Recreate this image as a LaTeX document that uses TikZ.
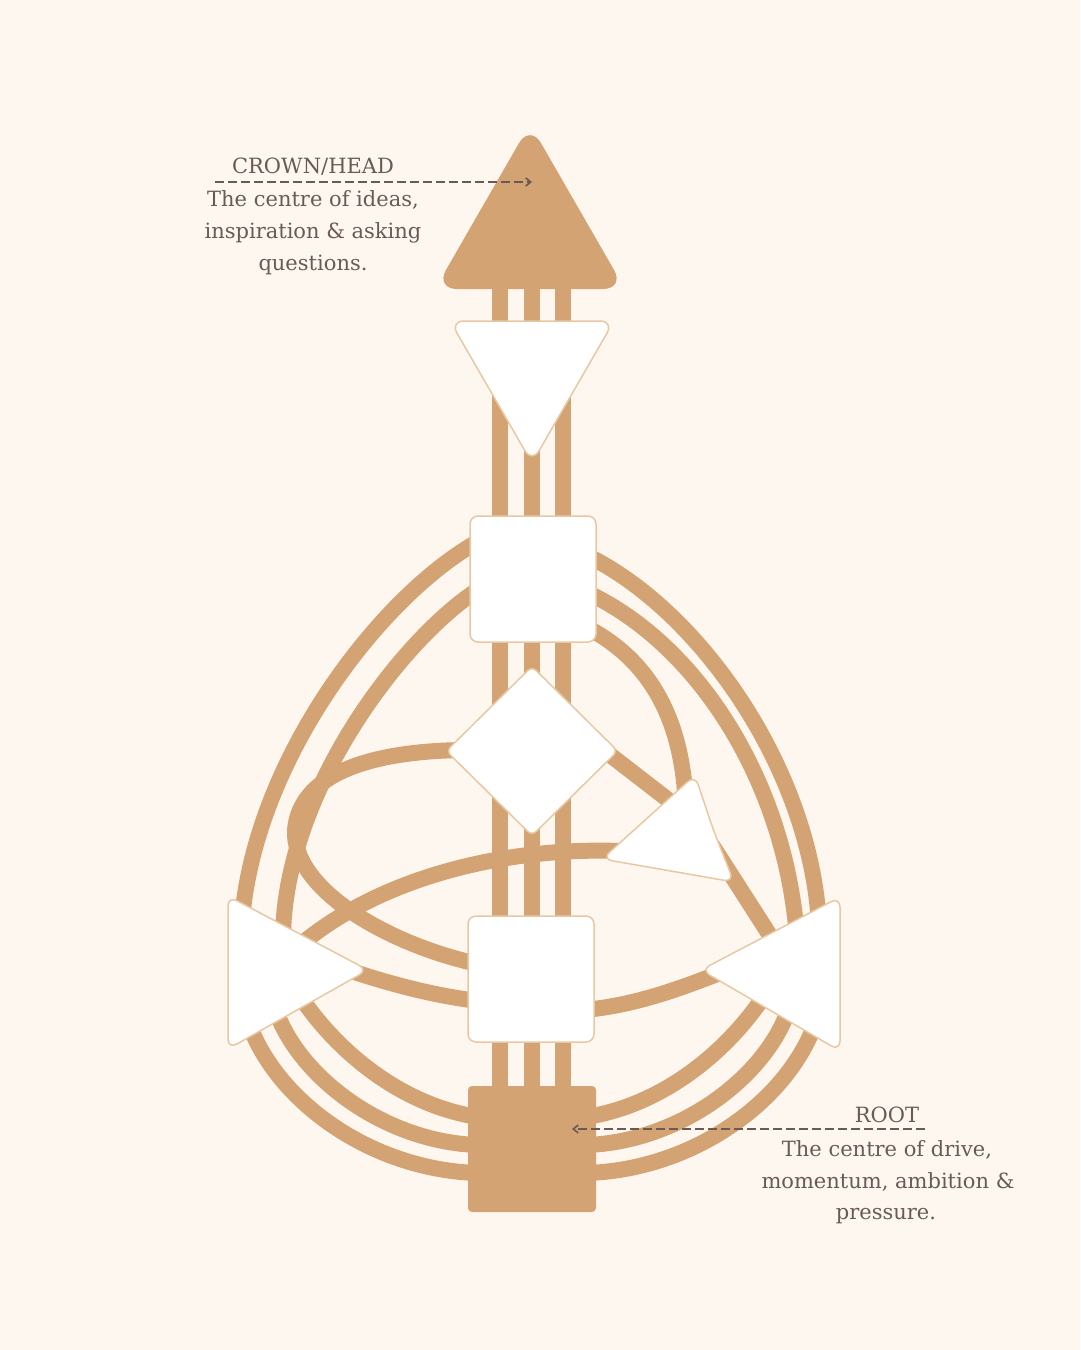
\documentclass[tikz,border=0pt]{standalone}
\usepackage{fontspec}
\setmainfont{DejaVu Serif}
\usetikzlibrary{arrows.meta,shapes.geometric}
\definecolor{cream}{HTML}{FEF7F0}
\definecolor{chartan}{HTML}{D4A373}
\definecolor{edgetan}{HTML}{E8C8A2}
\definecolor{inkbrown}{HTML}{6A5A56}
\tikzset{
  channel/.style={draw=chartan,line width=16pt},
  centre/.style={fill=white,draw=edgetan,line width=1.5pt,rounded corners=10pt},
  fullcentre/.style={fill=chartan,rounded corners=4pt},
  labeltxt/.style={text=inkbrown,font=\fontsize{21}{26}\selectfont,inner sep=0pt,anchor=base},
  labelarrow/.style={draw=inkbrown,line width=1.6pt,dash pattern=on 9pt off 4pt,-{Straight Barb[length=5pt,width=8pt]}}
}
\begin{document}
\begin{tikzpicture}[x=1pt,y=-1pt]
\useasboundingbox (0,0) rectangle (1080,1350);
\fill[cream] (0,0) rectangle (1080,1350);
% channels
\foreach \cx in {500,532,563}
  \draw[channel] (\cx,280) -- (\cx,1100);
\draw[channel] (479,541) .. controls (380,596) and (255,760) .. (242,920);
\draw[channel] (479,589) .. controls (400,640) and (283,795) .. (283,940);
\draw[channel] (586,555) .. controls (700,610) and (811,770) .. (819,925);
\draw[channel] (586,592) .. controls (700,645) and (786,785) .. (797,938);
\draw[channel] (586,627) .. controls (650,660) and (684,720) .. (686,812);
\draw[channel] (596,744) -- (680,809);
\draw[channel] (712,845) -- (778,948);
\draw[channel] (640,852) .. controls (510,843) and (372,878) .. (290,954);
\draw[channel] (470,750) .. controls (380,750) and (300,770) .. (295,830) .. controls (292,890) and (390,945) .. (478,964);
\draw[channel] (320,960) .. controls (380,982) and (430,995) .. (478,1001);
\draw[channel] (584,1010) .. controls (640,1005) and (690,985) .. (745,963);
\draw[channel] (298,993) .. controls (335,1050) and (400,1105) .. (478,1117);
\draw[channel] (276,1011) .. controls (300,1078) and (385,1142) .. (478,1145);
\draw[channel] (248,1021) .. controls (275,1100) and (370,1170) .. (478,1173);
\draw[channel] (766,993) .. controls (729,1050) and (664,1105) .. (586,1117);
\draw[channel] (788,1011) .. controls (764,1078) and (679,1142) .. (586,1145);
\draw[channel] (816,1021) .. controls (789,1100) and (694,1170) .. (586,1173);
% centres (paths start mid-edge so every corner is rounded)
\fill[fullcentre,rounded corners=22pt] (530,289) -- (435,289) -- (530,124) -- (625,289) -- cycle;
\path[centre,rounded corners=14pt] (532,321) -- (614,321) -- (532,463) -- (450,321) -- cycle;
\node[centre,minimum width=126pt,minimum height=126pt,inner sep=0pt,rounded corners=8pt] (throat) at (533,579) {};
\node[centre,diamond,minimum width=172pt,minimum height=170pt,inner sep=0pt,rounded corners=6pt] (gcentre) at (532,751) {};
\path[centre] (713,829) -- (734,882) -- (602,859) -- (695,775) -- cycle;
\node[centre,minimum width=126pt,minimum height=126pt,inner sep=0pt,rounded corners=8pt] (sacral) at (531,979) {};
\path[centre] (228,972) -- (228,896) -- (368,970) -- (228,1049) -- cycle;
\path[centre] (840,974) -- (840,897) -- (701,970) -- (840,1051) -- cycle;
\node[fullcentre,minimum width=128pt,minimum height=126pt,inner sep=0pt] (root) at (532,1149) {};
% labels
\node[labeltxt] (crowntitle) at (313,173) {CROWN/HEAD};
\node[labeltxt] (crowntxta) at (313,206) {The centre of ideas,};
\node[labeltxt] (crowntxtb) at (313,238) {inspiration \& asking};
\node[labeltxt] (crowntxtc) at (313,270) {questions.};
\coordinate (crownline) at (215,182);
\coordinate (headpt) at (532,182);
\draw[labelarrow] (crownline) -- (headpt);
\node[labeltxt] (roottitle) at (887,1122) {ROOT};
\node[labeltxt] (roottxta) at (887,1156) {The centre of drive,};
\node[labeltxt] (roottxtb) at (888,1188) {momentum, ambition \&};
\node[labeltxt] (roottxtc) at (886,1219) {pressure.};
\coordinate (rootline) at (925,1129);
\coordinate (rootpt) at (572,1129);
\draw[labelarrow] (rootline) -- (rootpt);
\end{tikzpicture}
\end{document}
